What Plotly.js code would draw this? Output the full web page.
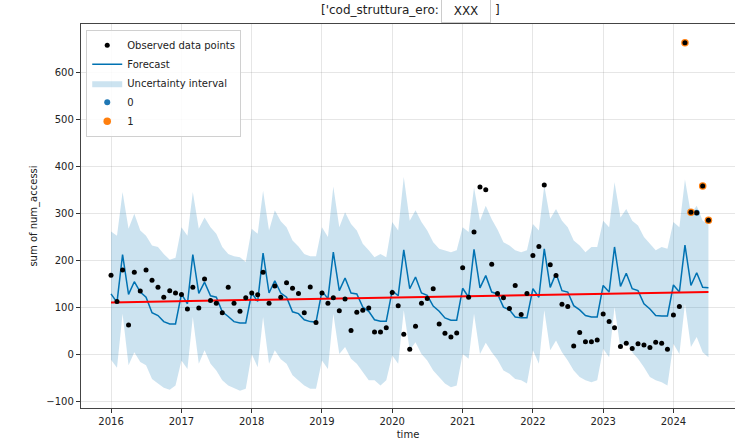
<!DOCTYPE html>
<html>
<head>
<meta charset="utf-8">
<script src="https://cdn.plot.ly/plotly-3.0.1.min.js"></script>
<style>
html,body{margin:0;padding:0;background:#fff;}
#chart{width:735px;height:442px;}
</style>
</head>
<body>
<div id="chart"></div>
<script>
// Monthly dates (first of month), 2016-01 .. 2024-07
const months = [
 '2016-01','2016-02','2016-03','2016-04','2016-05','2016-06','2016-07','2016-08','2016-09','2016-10','2016-11','2016-12',
 '2017-01','2017-02','2017-03','2017-04','2017-05','2017-06','2017-07','2017-08','2017-09','2017-10','2017-11','2017-12',
 '2018-01','2018-02','2018-03','2018-04','2018-05','2018-06','2018-07','2018-08','2018-09','2018-10','2018-11','2018-12',
 '2019-01','2019-02','2019-03','2019-04','2019-05','2019-06','2019-07','2019-08','2019-09','2019-10','2019-11','2019-12',
 '2020-01','2020-02','2020-03','2020-04','2020-05','2020-06','2020-07','2020-08','2020-09','2020-10','2020-11','2020-12',
 '2021-01','2021-02','2021-03','2021-04','2021-05','2021-06','2021-07','2021-08','2021-09','2021-10','2021-11','2021-12',
 '2022-01','2022-02','2022-03','2022-04','2022-05','2022-06','2022-07','2022-08','2022-09','2022-10','2022-11','2022-12',
 '2023-01','2023-02','2023-03','2023-04','2023-05','2023-06','2023-07','2023-08','2023-09','2023-10','2023-11','2023-12',
 '2024-01','2024-02','2024-03','2024-04','2024-05','2024-06','2024-07'
];

// Observed data points (sum of num_accessi)
const observed = [
 169,113,180,63,175,135,180,158,143,122,136,131,
 128,97,143,99,161,115,109,89,143,109,92,121,
 131,127,175,109,146,122,153,141,130,89,144,68,
 131,109,121,93,118,51,90,94,99,48,48,57,
 132,104,43,11,60,109,119,140,65,45,37,46,
 185,122,261,357,351,192,130,121,98,147,85,130,
 211,230,361,191,168,107,102,18,47,27,27,31,
 86,70,57,17,24,13,23,20,15,26,24,11,
 84,102,664,303,302,359,286
];

// Forecast (yhat)
const forecast = [
 129,111,213,128,155,133,122,89,83,70,65,65,
 129,108,213,130,154,125,122,91,81,70,67,67,
 131,113,216,131,157,131,122,91,87,74,70,69,
 135,119,218,136,163,131,129,101,92,74,71,71,
 136,125,223,140,165,131,126,103,92,78,73,73,
 141,122,224,142,168,133,129,101,95,80,78,78,
 140,122,225,143,173,136,133,104,95,83,80,80,
 147,133,229,145,173,140,136,108,97,83,82,82,
 148,133,233,147,174,143,142
];

// Uncertainty interval
const upper = [
 262,253,346,268,300,264,253,232,229,214,202,206,
 271,253,346,268,292,271,257,229,214,209,207,197,
 268,257,349,264,307,284,271,243,230,214,209,209,
 271,250,358,271,303,278,264,236,222,207,214,207,
 282,264,378,285,307,282,264,239,225,222,218,222,
 271,261,356,285,317,288,266,239,232,222,218,222,
 278,264,360,289,310,285,271,243,232,218,229,229,
 285,271,367,292,310,285,275,250,236,222,229,225,
 282,271,373,300,317,285,277
];
const lower = [
 -11,-28,87,-23,5,-16,-23,-52,-62,-71,-75,-66,
 -13,-31,80,-20,9,-20,-34,-55,-66,-71,-77,-73,
 1,-27,80,-20,9,-10,-20,-44,-55,-66,-73,-73,
 -13,-31,87,1,16,-9,-20,-38,-55,-55,-66,-55,
 -2,-20,94,9,26,1,-13,-34,-48,-62,-70,-66,
 1,-9,87,1,25,5,-11,-34,-41,-52,-55,-62,
 9,-20,94,9,30,5,-13,-34,-48,-55,-59,-55,
 12,-6,101,12,30,5,-9,-27,-48,-55,-59,-66,
 23,1,108,16,37,5,-6
];

// Trend line
const trendDates = ['2016-01','2024-07'];
const trendValues = [111,133];

// Anomaly classes
const class0Dates = ['2024-05'];
const class0Values = [302];
const class1Dates = ['2024-03','2024-04','2024-06','2024-07'];
const class1Values = [664,303,359,286];

const yTicks = [-100,0,100,200,300,400,500,600];
const xTicks = ['2016-01-01','2017-01-01','2018-01-01','2019-01-01','2020-01-01','2021-01-01','2022-01-01','2023-01-01','2024-01-01'];
const xTickText = ['2016','2017','2018','2019','2020','2021','2022','2023','2024'];

const FONT = 'DejaVu Sans, Arial, sans-serif';
const BLUE = '#0072B2';

const traces = [
 {x: months, y: lower, type:'scatter', mode:'lines', line:{width:0, color:BLUE},
  showlegend:false, hoverinfo:'skip'},
 {x: months, y: upper, type:'scatter', mode:'lines', line:{width:0, color:BLUE},
  fill:'tonexty', fillcolor:'rgba(0,114,178,0.2)', name:'Uncertainty interval', legendrank:3},
 {x: months, y: forecast, type:'scatter', mode:'lines', line:{width:1.5, color:BLUE},
  name:'Forecast', legendrank:2},
 {x: trendDates, y: trendValues, type:'scatter', mode:'lines', line:{width:2, color:'#ff0000'},
  showlegend:false},
 {x: class0Dates, y: class0Values, type:'scatter', mode:'markers',
  marker:{size:6, color:'#1f77b4'}, name:'0', legendrank:4},
 {x: class1Dates, y: class1Values, type:'scatter', mode:'markers',
  marker:{size:7.5, color:'#ff7f0e'}, name:'1', legendrank:5},
 {x: months, y: observed, type:'scatter', mode:'markers',
  marker:{size:5, color:'#000000'}, name:'Observed data points', legendrank:1}
];

const layout = {
 width:735, height:442,
 margin:{l:81, r:0, t:24, b:34},
 paper_bgcolor:'#ffffff', plot_bgcolor:'#ffffff',
 font:{family:FONT, size:10, color:'#222'},
 showlegend:true,
 legend:{x:0.008, y:0.985, xanchor:'left', yanchor:'top', traceorder:'normal',
   bgcolor:'rgba(255,255,255,0.85)', bordercolor:'#d0d0d0', borderwidth:1,
   font:{family:FONT, size:10, color:'#222'}, tracegroupgap:0, itemwidth:30},
 xaxis:{
   type:'date', range:['2015-07-29','2024-11-16'],
   tickvals:xTicks, ticktext:xTickText,
   ticks:'outside', ticklen:4, tickcolor:'#333', tickwidth:1,
   showgrid:true, gridcolor:'rgba(128,128,128,0.2)', gridwidth:1,
   showline:true, linecolor:'#444', linewidth:1.2, mirror:true,
   zeroline:false, tickfont:{family:FONT, size:10, color:'#222'},
   title:{text:'time', font:{family:FONT, size:10, color:'#222'}, standoff:4}
 },
 yaxis:{
   range:[-114, 704],
   tickvals:yTicks, ticktext:['\u2212100','0','100','200','300','400','500','600'],
   ticks:'outside', ticklen:4, tickcolor:'#333', tickwidth:1,
   showgrid:true, gridcolor:'rgba(128,128,128,0.2)', gridwidth:1,
   showline:true, linecolor:'#444', linewidth:1.2,
   zeroline:false, tickfont:{family:FONT, size:10, color:'#222'},
   title:{text:'sum of num_accessi', font:{family:FONT, size:10, color:'#222'}, standoff:6}
 },
 annotations:[
  {xref:'paper', yref:'paper', x:0.5505, y:1.0365, xanchor:'right', yanchor:'middle',
   text:"['cod_struttura_ero:", showarrow:false, font:{family:FONT, size:12, color:'#222'}},
  {xref:'paper', yref:'paper', x:0.5887, y:1.0326, xanchor:'center', yanchor:'middle',
   text:'XXX', showarrow:false, font:{family:FONT, size:12, color:'#222'},
   bordercolor:'#cccccc', borderwidth:1, bgcolor:'#ffffff', width:46, height:20},
  {xref:'paper', yref:'paper', x:0.6305, y:1.0365, xanchor:'left', yanchor:'middle',
   text:']', showarrow:false, font:{family:FONT, size:12, color:'#222'}}
 ]
};

Plotly.newPlot('chart', traces, layout, {staticPlot:true, displayModeBar:false});
</script>
</body>
</html>
